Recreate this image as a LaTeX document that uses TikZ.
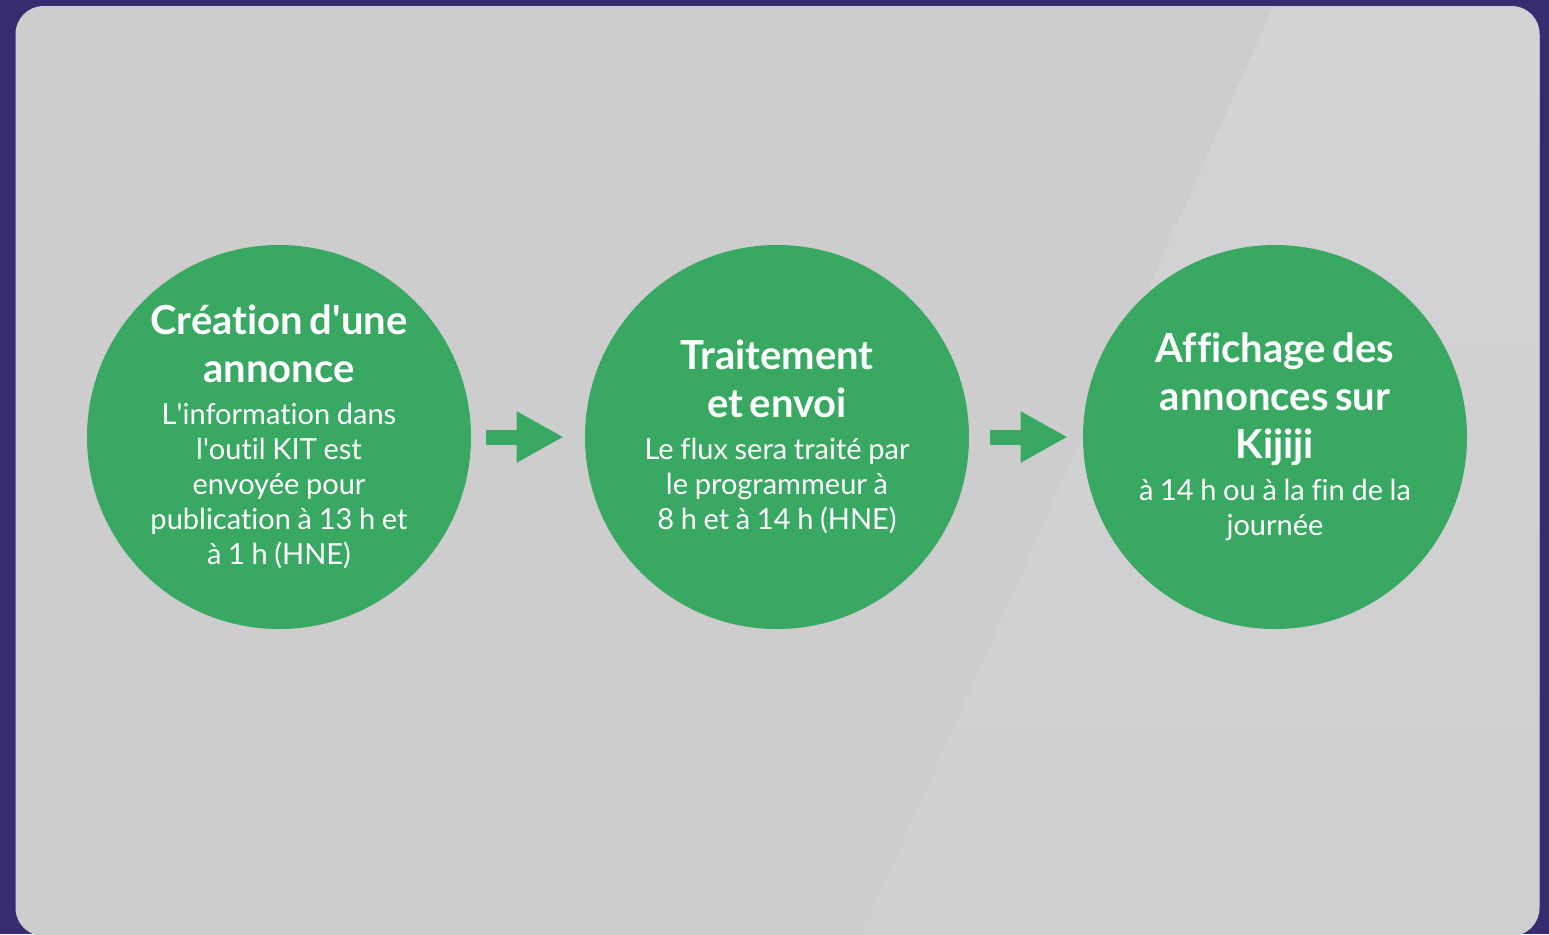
\documentclass[tikz,border=0pt]{standalone}
\usepackage{fontspec}
\setmainfont{Lato}[Ligatures={NoCommon}]
\usetikzlibrary{arrows.meta,calc,fadings}
\definecolor{bgpurple}{HTML}{362C70}
\definecolor{panelgray}{HTML}{CDCDCD}
\definecolor{panellight}{HTML}{D6D6DA}
\definecolor{stagegreen}{HTML}{38A863}
\newcommand\mytitle[1]{{\fontsize{20}{24}\selectfont\bfseries #1\par}}
\newcommand\mybody[1]{{\fontsize{14.5}{17.5}\selectfont #1\par}}
\newcommand\apos{\textquotesingle}
\tikzset{
  stage/.style={circle, fill=stagegreen, minimum size=192pt, inner sep=0pt},
  stagetext/.style={text=white, text width=175pt, align=center, inner sep=0pt},
  flowarrow/.style={stagegreen, line width=7.5pt, -{Triangle[length=23.5pt,width=24pt]}}
}
\begin{document}
\begin{tikzpicture}[x=0.5pt,y=-0.5pt]
\useasboundingbox (0,0) rectangle (1549,934);
\fill[bgpurple] (0,0) rectangle (1549,934);
\fill[panelgray, rounded corners=14pt] (15.5,6) rectangle (1539.5,936);
\begin{scope}
\clip[rounded corners=14pt] (15.5,6) rectangle (1539.5,936);
\fill[panellight, path fading=south, opacity=0.75] (1273,6) -- (1560,6) -- (1560,1300) -- (700,1300) -- cycle;
\end{scope}

\node[stage] (c1) at (279,437) {};
\node[stage] (c2) at (777,437) {};
\node[stage] (c3) at (1275,437) {};

\node[stagetext] (t1) at (c1.center) {\mytitle{Création d\apos une\\annonce}\vspace{3.5pt}\mybody{L\apos information dans\\l\apos outil KIT est\\envoyée pour\\publication à 13 h et\\à 1 h (HNE)}};
\node[stagetext] (t2) at (c2.center) {\mytitle{Traitement\\et envoi}\vspace{3.5pt}\mybody{Le flux sera traité par\\le programmeur à\\8 h et à 14 h (HNE)}};
\node[stagetext] (t3) at (c3.center) {\mytitle{Affichage des\\annonces sur\\Kijiji}\vspace{3.5pt}\mybody{à 14 h ou à la fin de la\\journée}};

\draw[flowarrow] ($(c1.east)+(15,0)$) -- ($(c2.west)+(-21,0)$);
\draw[flowarrow] ($(c2.east)+(21,0)$) -- ($(c3.west)+(-15,0)$);
\end{tikzpicture}
\end{document}
